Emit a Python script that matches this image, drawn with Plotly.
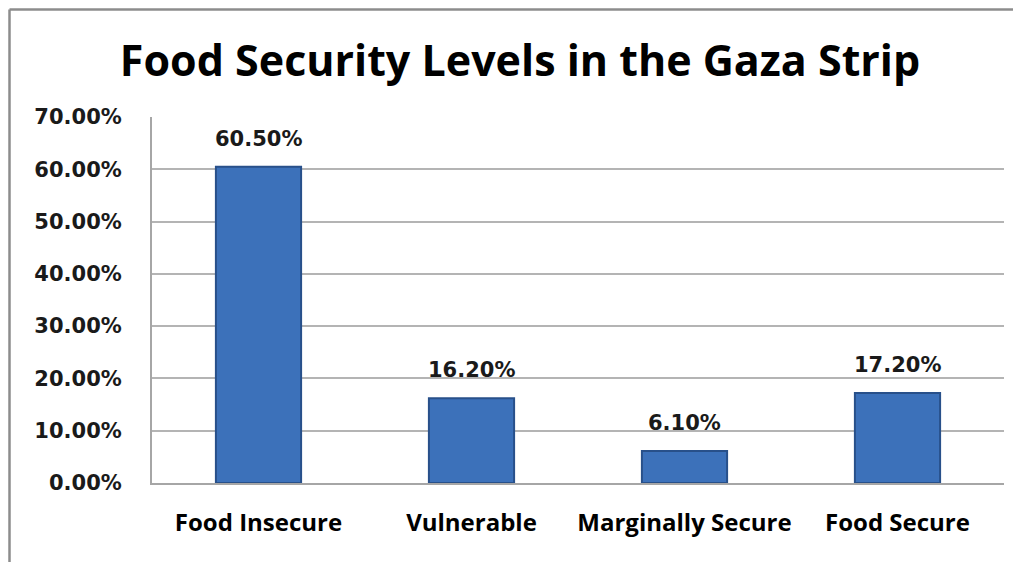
import plotly.graph_objects as go

categories = ["Food Insecure", "Vulnerable", "Marginally Secure", "Food Secure"]
values = [60.5, 16.2, 6.1, 17.2]
value_labels = ["60.50%", "16.20%", "6.10%", "17.20%"]
y_ticks = [0, 10, 20, 30, 40, 50, 60, 70]
y_tick_labels = ["0.00%", "10.00%", "20.00%", "30.00%", "40.00%", "50.00%", "60.00%", "70.00%"]
title_text = "Food Security Levels in the Gaza Strip"

W, H = 1013, 554
L, R, T, B = 144, 17, 109, 79
pw, ph = W - L - R, H - T - B

fig = go.Figure()
fig.add_trace(go.Bar(
    x=categories, y=values,
    marker=dict(color="#3c71ba", line=dict(color="#28508a", width=2)),
    width=0.4,
    hoverinfo="skip",
))

for c, v, t in zip(categories, values, value_labels):
    fig.add_annotation(x=c, y=v, text=t, showarrow=False, yshift=28,
                       font=dict(family="DejaVu Sans", size=21, color="#1a1a1a", weight="bold"))

fig.update_layout(
    width=W, height=H,
    margin=dict(l=L, r=R, t=T, b=B),
    paper_bgcolor="white", plot_bgcolor="white",
    showlegend=False,
    title=dict(text=title_text, x=(520 - 8) / W, xanchor="center", y=1 - 53 / H, yanchor="middle",
               font=dict(family="Open Sans", size=43, color="black", weight="bold")),
    xaxis=dict(showline=True, linecolor="#a6a6a6", linewidth=2, showgrid=False,
               ticks="", ticklabelstandoff=17,
               tickfont=dict(family="Open Sans", size=24, color="black", weight="bold")),
    yaxis=dict(range=[0, 70], tickvals=y_ticks, ticktext=y_tick_labels,
               showline=True, linecolor="#a6a6a6", linewidth=2,
               showgrid=True, gridcolor="#b4b4b4", gridwidth=1.5,
               ticks="", ticklabelstandoff=24, zeroline=False,
               tickfont=dict(family="DejaVu Sans", size=21, color="#1a1a1a", weight="bold")),
)

# outer frame (top and left edges)
fx = (1.5 - L) / pw
fy = 1 + (T - 1.5) / ph
fig.add_shape(type="line", xref="paper", yref="paper",
              x0=fx, x1=1 + R / pw, y0=fy, y1=fy,
              line=dict(color="#8c8c8c", width=2.5))
fig.add_shape(type="line", xref="paper", yref="paper",
              x0=fx, x1=fx, y0=-B / ph, y1=fy,
              line=dict(color="#8c8c8c", width=2.5))

fig.write_html("out.html")
